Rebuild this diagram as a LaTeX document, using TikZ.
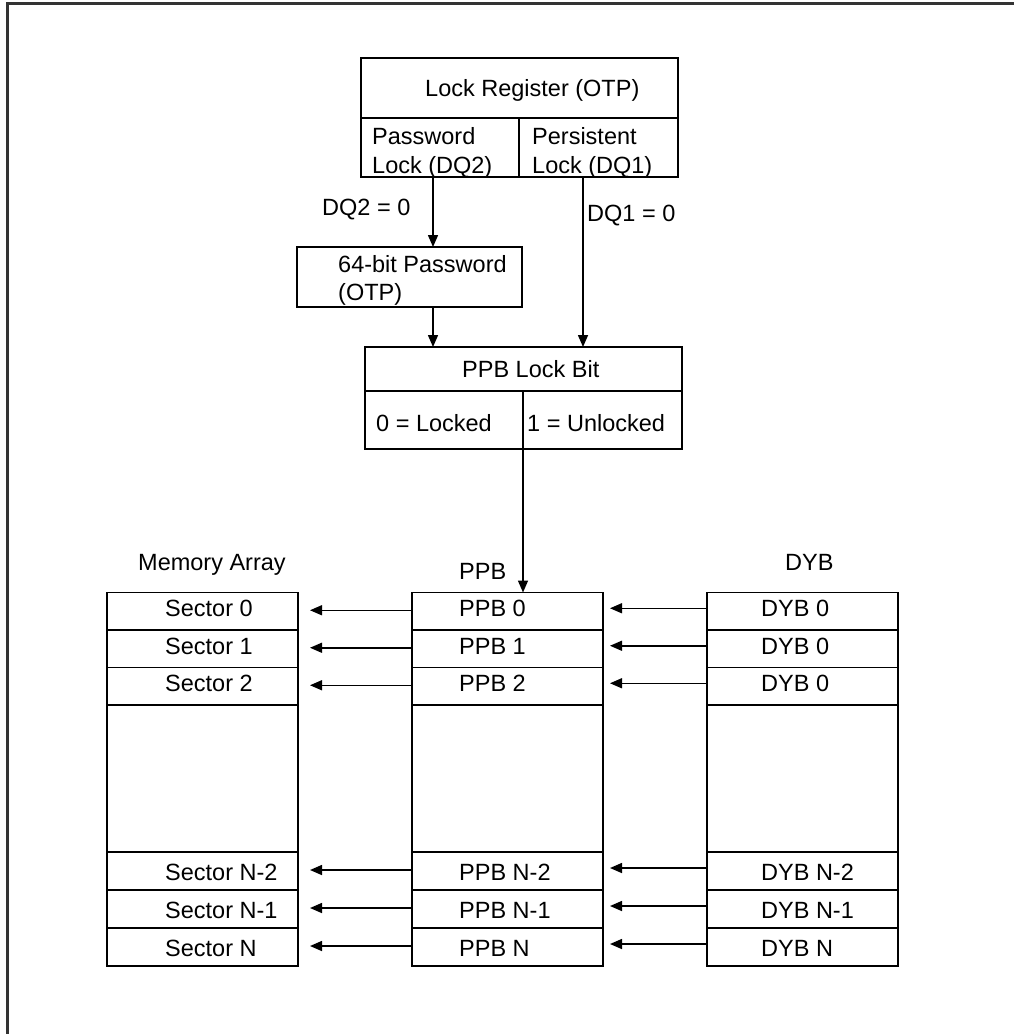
\documentclass[tikz,border=0pt]{standalone}
\usepackage{fontspec}
\setmainfont{Liberation Sans}
\usetikzlibrary{arrows.meta}
\begin{document}
\begin{tikzpicture}[x=1pt,y=-1pt,
  cell/.style={draw, rectangle, line width=1.5pt, inner sep=0pt, outer sep=0pt},
  txt/.style={font=\fontsize{23.5}{28}\selectfont, inner sep=0pt, anchor=base west},
  arr/.style={line width=1.5pt, -{Triangle[length=12pt,width=10pt]}},
]
\useasboundingbox (0,0) rectangle (1013,1034);
\draw[line width=2.4pt, black!80] (7.5,1050) -- (7.5,3.5) -- (1030,3.5);

% Lock register
\node[cell, minimum width=317pt, minimum height=60pt] (lr) at (519.5,88) {};
\node[cell, minimum width=158pt, minimum height=59pt] (lrL) at (440,147.5) {};
\node[cell, minimum width=159pt, minimum height=59pt] (lrR) at (598.5,147.5) {};
\node[txt] (tlr) at (425,96.4) {Lock Register (OTP)};
\node[txt] (tpw1) at (372,144.4) {Password};
\node[txt] (tpw2) at (372,173.4) {Lock (DQ2)};
\node[txt] (tps1) at (532,144.4) {Persistent};
\node[txt] (tps2) at (532,173.4) {Lock (DQ1)};

% Password box
\node[cell, minimum width=225pt, minimum height=60pt] (pw) at (409.5,277) {};
\node[txt] (tpwa) at (338,272.4) {64-bit Password};
\node[txt] (tpwb) at (338,300.4) {(OTP)};

% PPB lock bit
\node[cell, minimum width=317pt, minimum height=44pt] (lb) at (523.5,369) {};
\node[cell, minimum width=158pt, minimum height=58pt] (lbL) at (444,420) {};
\node[cell, minimum width=159pt, minimum height=58pt] (lbR) at (602.5,420) {};
\node[txt] (tlb) at (462,377.4) {PPB Lock Bit};
\node[txt] (tlbL) at (376,431.4) {0 = Locked};
\node[txt] (tlbR) at (527,431.4) {1 = Unlocked};

% connector labels
\node[txt] (ldq2) at (322,215.4) {DQ2 = 0};
\node[txt] (ldq1) at (587,221.4) {DQ1 = 0};

% column titles
\node[txt] (tma) at (138,570) {Memory Array};
\node[txt] (tppb) at (459,579) {PPB};
\node[txt] (tdyb) at (785,570) {DYB};

% middle empty cells
\node[cell, minimum width=191pt, minimum height=147pt] (mm) at (202.5,778.5) {};
\node[cell, minimum width=191pt, minimum height=147pt] (pm) at (507.5,778.5) {};
\node[cell, minimum width=191pt, minimum height=147pt] (dm) at (802.5,778.5) {};

% rows
\foreach \n/\yc/\h/\dy/\sl/\pl/\dl in {
  0/611.25/37.5/5.5/Sector 0/PPB 0/DYB 0,
  1/648.75/37.5/5.5/Sector 1/PPB 1/DYB 0,
  2/686.25/37.5/5.5/Sector 2/PPB 2/DYB 0,
  a/871/38/9.5/Sector N-2/PPB N-2/DYB N-2,
  b/909/38/9.5/Sector N-1/PPB N-1/DYB N-1,
  c/947/38/9/Sector N/PPB N/DYB N}
{
  \node[cell, minimum width=191pt, minimum height=\h pt] (m\n) at (202.5,\yc) {};
  \node[cell, minimum width=191pt, minimum height=\h pt] (p\n) at (507.5,\yc) {};
  \node[cell, minimum width=191pt, minimum height=\h pt] (d\n) at (802.5,\yc) {};
  \node[txt] (tm\n) at (165,\yc+\dy) {\sl};
  \node[txt] (tp\n) at (459,\yc+\dy) {\pl};
  \node[txt] (td\n) at (761,\yc+\dy) {\dl};
  \draw[arr, shorten >=12pt] ([yshift=1pt]p\n.west) -- ([yshift=1pt]m\n.east);
  \draw[arr, shorten >=7pt] ([yshift=3pt]d\n.west) -- ([yshift=3pt]p\n.east);
}

% vertical connectors
\draw[arr] ([xshift=-7pt]lrL.south) -- ([xshift=23.5pt]pw.north);
\draw[arr] ([xshift=23.5pt]pw.south) -- ([xshift=-90.5pt]lb.north);
\draw[arr] ([xshift=-15.5pt]lrR.south) -- ([xshift=59.5pt]lb.north);
\draw[arr] (lbR.south west) -- ([xshift=15.5pt]p0.north);
\end{tikzpicture}
\end{document}
